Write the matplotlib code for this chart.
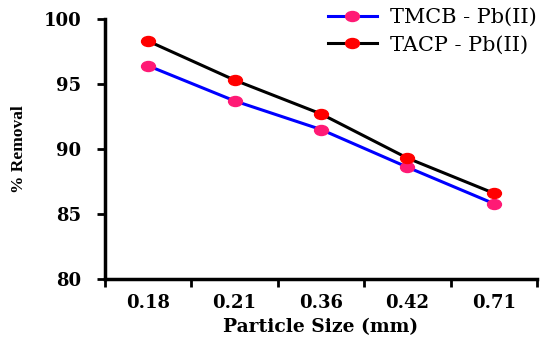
import matplotlib
matplotlib.use("Agg")
import matplotlib.pyplot as plt
from matplotlib.path import Path
from matplotlib.transforms import Affine2D
import numpy as np

particle_sizes = ["0.18", "0.21", "0.36", "0.42", "0.71"]
tmcb_removal = [96.4, 93.7, 91.5, 88.6, 85.8]
tacp_removal = [98.3, 95.3, 92.7, 89.3, 86.6]
y_ticks = [80, 85, 90, 95, 100]

plt.rcParams["font.family"] = ["DejaVu Serif"]

W, H = 542, 337
fig = plt.figure(figsize=(W / 100, H / 100), dpi=100)
ax = fig.add_axes([105 / W, 1 - 279 / H, (537 - 105) / W, (279 - 19) / H])

# slightly flattened round marker
oval = Path(Affine2D().scale(1.0, 0.72).transform(Path.unit_circle().vertices),
            Path.unit_circle().codes)

x = np.arange(1, len(particle_sizes) + 1)
ax.plot(x, tmcb_removal, color="#0000FF", lw=2.2, marker=oval, ms=10,
        mfc="#FF1A75", mec="#FF1A75", label="TMCB - Pb(II)", zorder=3)
ax.plot(x, tacp_removal, color="black", lw=2.2, marker=oval, ms=10,
        mfc="#FF0000", mec="#FF0000", label="TACP - Pb(II)", zorder=3)

ax.set_xlim(0.5, len(particle_sizes) + 0.5)
ax.set_ylim(80, 100)
ax.set_yticks(y_ticks)
ax.set_yticklabels([str(v) for v in y_ticks], fontsize=13, fontweight="bold")

# category labels sit between boundary tick marks
ax.set_xticks(x)
ax.set_xticklabels(particle_sizes, fontsize=13, fontweight="bold")
ax.tick_params(axis="x", which="major", length=0, pad=11)
ax.set_xticks(np.arange(0.5, len(particle_sizes) + 1.0, 1.0), minor=True)
ax.tick_params(axis="x", which="minor", length=6, width=2, direction="out")
ax.tick_params(axis="y", length=6, width=2, direction="out", pad=11)

for side in ("top", "right"):
    ax.spines[side].set_visible(False)
for side in ("left", "bottom"):
    ax.spines[side].set_linewidth(2.5)

ax.set_xlabel("Particle Size (mm)", fontsize=13.5, fontweight="bold", labelpad=4)
ax.set_ylabel("% Removal", fontsize=12.5, fontweight="bold", labelpad=12,
              family="Liberation Serif")

leg = fig.legend(loc="upper left", bbox_to_anchor=(328 / W, 1 - 8 / H),
                 frameon=False, prop={"size": 15}, handlelength=2.35,
                 handletextpad=0.65, labelspacing=0.4, borderaxespad=0.0,
                 borderpad=0.0)

fig.savefig("out.png", dpi=100)
